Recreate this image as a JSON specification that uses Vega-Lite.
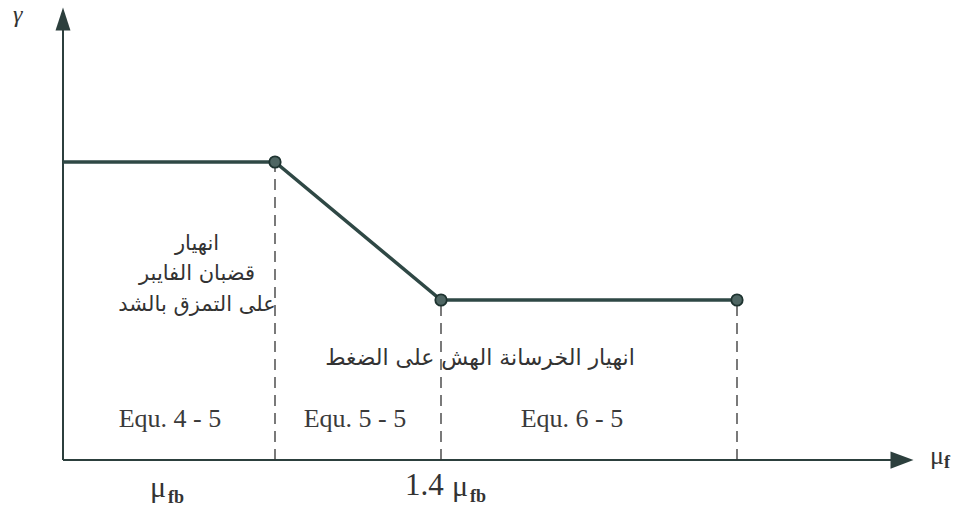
{
  "$schema": "https://vega.github.io/schema/vega-lite/v6.json",
  "width": 964,
  "height": 510,
  "padding": 0,
  "autosize": {"type": "fit", "contains": "padding"},
  "background": "white",
  "config": {"view": {"stroke": null}},
  "datasets": {
    "curve": [{"x": 0, "y": 298}, {"x": 212, "y": 298}, {"x": 378, "y": 160}, {"x": 674, "y": 160}],
    "nodes": [{"x": 212, "y": 298}, {"x": 378, "y": 160}, {"x": 674, "y": 160}],
    "dashes": [{"x": 212, "y": 0, "y2": 298}, {"x": 378, "y": 0, "y2": 160}, {"x": 674, "y": 0, "y2": 160}],
    "axes": [{"x": 0, "y": 0, "x2": 0, "y2": 430}, {"x": 0, "y": 0, "x2": 828, "y2": 0}],
    "arrowUp": [{"x": 0, "y": 441}],
    "arrowRight": [{"x": 839, "y": 0}],
    "arabicBlock": [
      {"x": 134, "y": 210, "label": "انهيار"},
      {"x": 134, "y": 180, "label": "قضبان الفايبر"},
      {"x": 134, "y": 149, "label": "على التمزق بالشد"}
    ],
    "arabicWide": [
      {"x": 417, "y": 95, "label": "انهيار الخرسانة الهش على الضغط"}
    ],
    "equ": [
      {"x": 107, "y": 33, "label": "Equ. 4 - 5"},
      {"x": 292, "y": 33, "label": "Equ. 5 - 5"},
      {"x": 509, "y": 33, "label": "Equ. 6 - 5"}
    ],
    "gamma": [{"x": -50, "y": 438, "label": "γ"}],
    "mu": [
      {"x": 87, "y": -37, "label": "μ"},
      {"x": 389, "y": -36, "label": "μ"}
    ],
    "muf": [{"x": 867, "y": -4, "label": "μ"}],
    "sub": [
      {"x": 105, "y": -43, "label": "fb"},
      {"x": 407, "y": -42, "label": "fb"},
      {"x": 881, "y": -8, "label": "f"}
    ],
    "num": [{"x": 342, "y": -35, "label": "1.4"}]
  },
  "encoding": {
    "x": {"field": "x", "type": "quantitative", "scale": {"domain": [-63, 901], "nice": false, "zero": false}, "axis": null},
    "y": {"field": "y", "type": "quantitative", "scale": {"domain": [-50, 460], "nice": false, "zero": false}, "axis": null}
  },
  "layer": [
    {
      "data": {"name": "axes"},
      "mark": {"type": "rule", "color": "#2c3f3d", "strokeWidth": 2},
      "encoding": {"x2": {"field": "x2"}, "y2": {"field": "y2"}}
    },
    {
      "data": {"name": "arrowUp"},
      "mark": {"type": "point", "shape": "M-0.65,1L0,-1L0.65,1Z", "size": 529, "filled": true, "color": "#2c3f3d", "opacity": 1},
      "encoding": {}
    },
    {
      "data": {"name": "arrowRight"},
      "mark": {"type": "point", "shape": "M-1,-0.75L1,0L-1,0.75Z", "size": 529, "filled": true, "color": "#2c3f3d", "opacity": 1},
      "encoding": {}
    },
    {
      "data": {"name": "dashes"},
      "mark": {"type": "rule", "color": "#333333", "strokeWidth": 1.3, "strokeDash": [11, 7]},
      "encoding": {"y2": {"field": "y2"}}
    },
    {
      "data": {"name": "curve"},
      "mark": {"type": "line", "color": "#2f4845", "strokeWidth": 3.5},
      "encoding": {"order": {"field": "x", "type": "quantitative"}}
    },
    {
      "data": {"name": "nodes"},
      "mark": {"type": "point", "shape": "circle", "size": 130, "filled": true, "fill": "#4f6663", "stroke": "#1e3330", "strokeWidth": 1.8, "opacity": 1},
      "encoding": {}
    },
    {
      "data": {"name": "arabicBlock"},
      "mark": {"type": "text", "font": "DejaVu Sans", "fontSize": 21, "color": "#333333", "align": "center", "baseline": "alphabetic"},
      "encoding": {"text": {"field": "label"}}
    },
    {
      "data": {"name": "arabicWide"},
      "mark": {"type": "text", "font": "DejaVu Sans", "fontSize": 22, "color": "#333333", "align": "center", "baseline": "alphabetic"},
      "encoding": {"text": {"field": "label"}}
    },
    {
      "data": {"name": "equ"},
      "mark": {"type": "text", "font": "Liberation Serif", "fontSize": 26, "color": "#3a3a3a", "align": "center", "baseline": "alphabetic"},
      "encoding": {"text": {"field": "label"}}
    },
    {
      "data": {"name": "gamma"},
      "mark": {"type": "text", "font": "Liberation Serif", "fontSize": 24, "fontStyle": "italic", "color": "#333333", "align": "left", "baseline": "alphabetic"},
      "encoding": {"text": {"field": "label"}}
    },
    {
      "data": {"name": "mu"},
      "mark": {"type": "text", "font": "Liberation Serif", "fontSize": 30, "color": "#333333", "align": "left", "baseline": "alphabetic"},
      "encoding": {"text": {"field": "label"}}
    },
    {
      "data": {"name": "muf"},
      "mark": {"type": "text", "font": "Liberation Serif", "fontSize": 26, "color": "#333333", "align": "left", "baseline": "alphabetic"},
      "encoding": {"text": {"field": "label"}}
    },
    {
      "data": {"name": "sub"},
      "mark": {"type": "text", "font": "Liberation Serif", "fontSize": 18, "fontWeight": "bold", "color": "#333333", "align": "left", "baseline": "alphabetic"},
      "encoding": {"text": {"field": "label"}}
    },
    {
      "data": {"name": "num"},
      "mark": {"type": "text", "font": "Liberation Serif", "fontSize": 31, "color": "#333333", "align": "left", "baseline": "alphabetic"},
      "encoding": {"text": {"field": "label"}}
    }
  ]
}
